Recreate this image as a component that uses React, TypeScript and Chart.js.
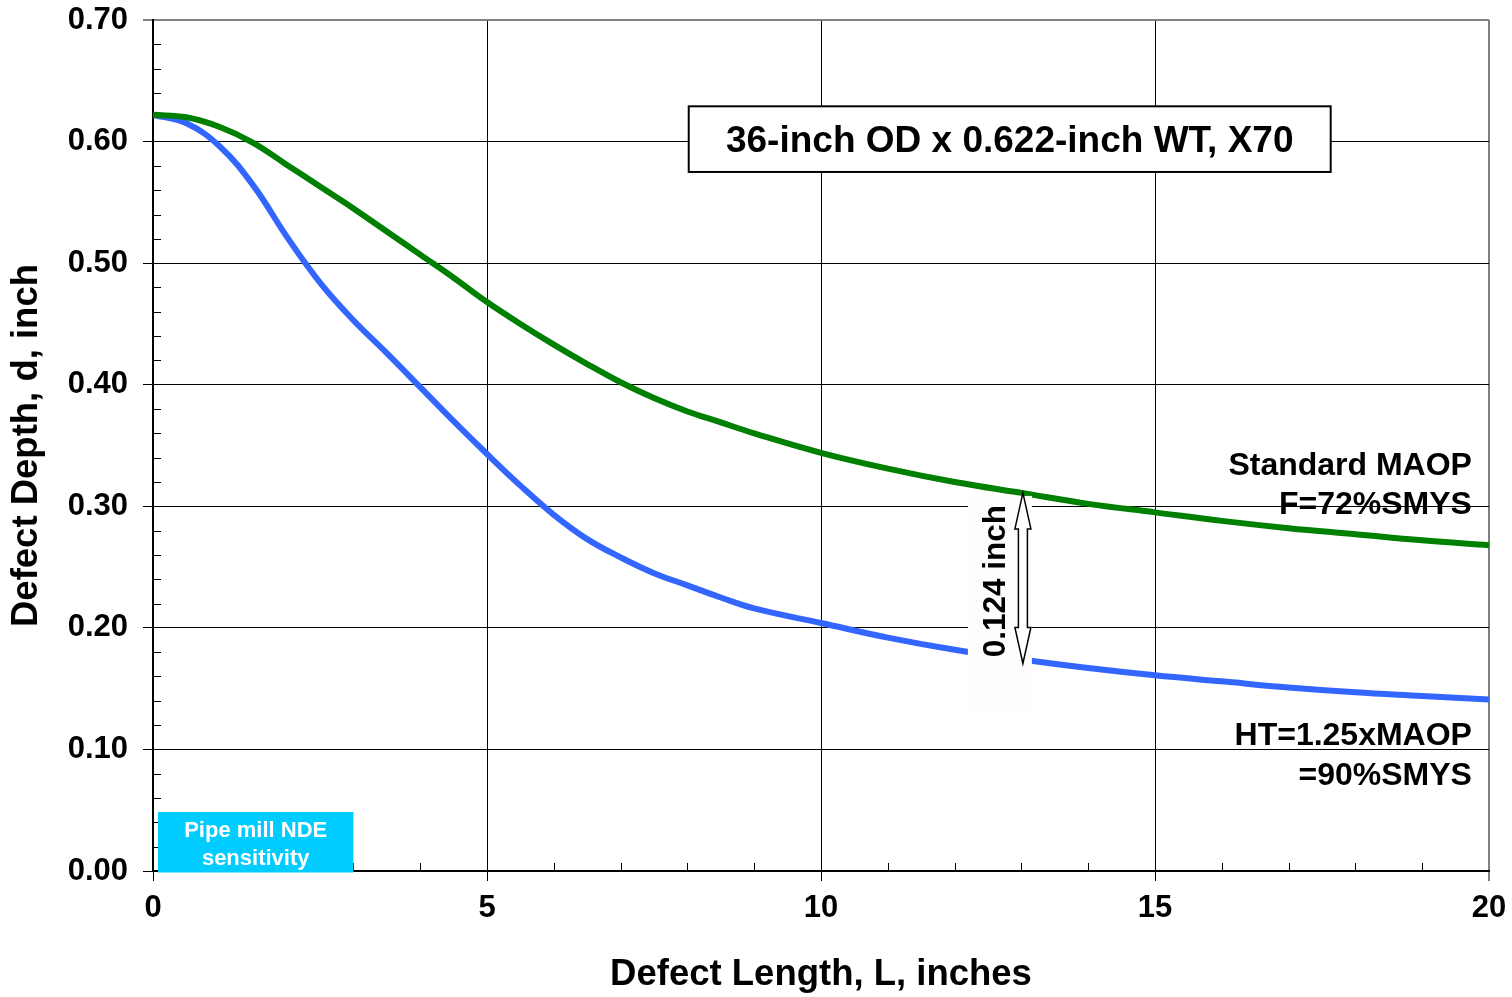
import React, { useEffect, useRef } from "react";
import { Chart, registerables } from "chart.js";

Chart.register(...registerables);

const FONT = "'Liberation Sans', Arial, Helvetica, sans-serif";

// Defect length, inches
const defectLength = [0, 0.5, 1, 1.5, 2, 2.5, 3, 3.5, 4, 4.5, 5, 5.5, 6, 6.5, 7, 7.5, 8, 8.5, 9, 10, 11, 12, 13, 14, 15, 16, 17, 18, 19, 20];

// Critical defect depth at standard MAOP (F = 72% SMYS), inches
const depthStandardMaop = [0.622, 0.62, 0.612, 0.599, 0.581, 0.563, 0.545, 0.526, 0.507, 0.488, 0.468, 0.45, 0.433, 0.417, 0.402, 0.389, 0.378, 0.369, 0.36, 0.344, 0.331, 0.32, 0.311, 0.302, 0.295, 0.288, 0.282, 0.277, 0.272, 0.268];

// Critical defect depth at hydrotest, 1.25 x MAOP (90% SMYS), inches
const depthHydrotest = [0.622, 0.615, 0.596, 0.564, 0.522, 0.484, 0.453, 0.426, 0.398, 0.37, 0.343, 0.317, 0.293, 0.273, 0.258, 0.245, 0.235, 0.225, 0.216, 0.204, 0.192, 0.182, 0.174, 0.167, 0.161, 0.156, 0.151, 0.147, 0.144, 0.141];

// Length at which the depth margin between the two curves is marked
const marginAtLength = 13;
const marginLabel = "0.124 inch";

const pipeLabel = "36-inch OD x 0.622-inch WT, X70";
const standardLabel = ["Standard MAOP", "F=72%SMYS"];
const hydroLabel = ["HT=1.25xMAOP", "=90%SMYS"];
const ndeLabel = ["Pipe mill NDE", "sensitivity"];

const toPoints = (ys: number[]) => defectLength.map((x, i) => ({ x, y: ys[i] }));

const minorTicks = {
  id: "minorTicks",
  beforeDatasetsDraw(chart: any) {
    const { ctx, chartArea: area, scales } = chart;
    ctx.save();
    ctx.strokeStyle = "#000";
    ctx.lineWidth = 1;
    ctx.beginPath();
    for (let v = 1; v < 20; v++) {
      if (v % 5 === 0) continue;
      const x = Math.round(scales.x.getPixelForValue(v)) + 0.5;
      ctx.moveTo(x, area.bottom);
      ctx.lineTo(x, area.bottom - 8);
    }
    for (let i = 1; i < 35; i++) {
      if (i % 5 === 0) continue;
      const y = Math.round(scales.y.getPixelForValue(i * 0.02)) + 0.5;
      ctx.moveTo(area.left, y);
      ctx.lineTo(area.left + 8, y);
    }
    ctx.stroke();
    ctx.restore();
  },
};

const overlay = {
  id: "overlay",
  afterDatasetsDraw(chart: any) {
    const { ctx, scales } = chart;
    const px = (v: number) => scales.x.getPixelForValue(v);
    const py = (v: number) => scales.y.getPixelForValue(v);
    ctx.save();

    // pipe description box
    const bx0 = px(8.02), bx1 = px(17.63), by0 = py(0.629), by1 = py(0.575);
    ctx.fillStyle = "#fff";
    ctx.fillRect(bx0, by0, bx1 - bx0, by1 - by0);
    ctx.strokeStyle = "#000";
    ctx.lineWidth = 2;
    ctx.strokeRect(bx0, by0, bx1 - bx0, by1 - by0);
    ctx.fillStyle = "#000";
    ctx.font = `bold 37px ${FONT}`;
    ctx.textAlign = "center";
    ctx.textBaseline = "alphabetic";
    ctx.fillText(pipeLabel, (bx0 + bx1) / 2, by0 + 46);

    // curve labels
    ctx.font = `bold 32px ${FONT}`;
    ctx.textAlign = "right";
    const rx = px(19.745);
    ctx.fillText(standardLabel[0], rx, py(0.3257));
    ctx.fillText(standardLabel[1], rx, py(0.2937));
    ctx.fillText(hydroLabel[0], rx, py(0.1036));
    ctx.fillText(hydroLabel[1], rx, py(0.0707));

    // depth margin marker between the curves
    const idx = defectLength.indexOf(marginAtLength);
    const ax = px(marginAtLength) + 1.5;
    const top = py(depthStandardMaop[idx]);
    const bot = py(depthHydrotest[idx]) + 4;
    ctx.fillStyle = "#fdfdfd";
    ctx.fillRect(ax - 55, top + 3, 64, bot + 43 - (top + 3));

    ctx.save();
    ctx.translate(ax - 18, (top + bot) / 2 + 3);
    ctx.rotate(-Math.PI / 2);
    ctx.fillStyle = "#000";
    ctx.font = `bold 31.5px ${FONT}`;
    ctx.textAlign = "center";
    ctx.textBaseline = "alphabetic";
    ctx.fillText(marginLabel, 0, 0);
    ctx.restore();

    const hw = 8, sw = 4.5, hl = 36;
    ctx.beginPath();
    ctx.moveTo(ax, top);
    ctx.lineTo(ax + hw, top + hl);
    ctx.lineTo(ax + sw, top + hl);
    ctx.lineTo(ax + sw, bot - hl);
    ctx.lineTo(ax + hw, bot - hl);
    ctx.lineTo(ax, bot);
    ctx.lineTo(ax - hw, bot - hl);
    ctx.lineTo(ax - sw, bot - hl);
    ctx.lineTo(ax - sw, top + hl);
    ctx.lineTo(ax - hw, top + hl);
    ctx.closePath();
    ctx.fillStyle = "#fff";
    ctx.fill();
    ctx.strokeStyle = "#000";
    ctx.lineWidth = 1.5;
    ctx.stroke();

    // NDE sensitivity band
    const nx0 = px(0.075), nx1 = px(3.0), ny0 = py(0.0485), ny1 = py(0) + 1.5;
    ctx.fillStyle = "#00CCFF";
    ctx.fillRect(nx0, ny0, nx1 - nx0, ny1 - ny0);
    ctx.fillStyle = "#fff";
    ctx.font = `bold 22px ${FONT}`;
    ctx.textAlign = "center";
    const ncx = (nx0 + nx1) / 2;
    ctx.fillText(ndeLabel[0], ncx, ny0 + 24.5);
    ctx.fillText(ndeLabel[1], ncx, ny0 + 52.5);

    ctx.restore();
  },
};

export default function App() {
  const canvasRef = useRef<HTMLCanvasElement | null>(null);

  useEffect(() => {
    if (!canvasRef.current) return;
    const edgeColor = (v: number, edge: number) => (Math.abs(v - edge) < 1e-6 ? "#808080" : "#000");
    const edgeWidth = (v: number, edge: number) => (Math.abs(v - edge) < 1e-6 ? 2 : 1);

    const chart = new Chart(canvasRef.current, {
      type: "line",
      data: {
        datasets: [
          {
            label: "Standard MAOP, F=72%SMYS",
            data: toPoints(depthStandardMaop),
            borderColor: "#008000",
            borderWidth: 6,
            pointRadius: 0,
            tension: 0.4,
            fill: false,
          },
          {
            label: "HT=1.25xMAOP =90%SMYS",
            data: toPoints(depthHydrotest),
            borderColor: "#3366FF",
            borderWidth: 6,
            pointRadius: 0,
            tension: 0.4,
            fill: false,
          },
        ],
      },
      options: {
        animation: false,
        responsive: true,
        maintainAspectRatio: false,
        devicePixelRatio: 1,
        layout: { padding: { left: 0, top: 20, right: 23, bottom: 0 } },
        plugins: {
          legend: { display: false },
          tooltip: { enabled: false },
        },
        scales: {
          x: {
            type: "linear",
            min: 0,
            max: 20,
            afterFit: (s: any) => {
              s.height = 126;
              s.paddingLeft = 0;
              s.paddingRight = 0;
            },
            ticks: {
              stepSize: 5,
              color: "#000",
              padding: 9,
              maxRotation: 0,
              font: { family: FONT, size: 31, weight: "bold" },
            },
            grid: {
              color: (c: any) => edgeColor(c.tick?.value ?? 0, 20),
              lineWidth: (c: any) => edgeWidth(c.tick?.value ?? 0, 20),
              tickLength: 10,
            },
            border: { display: true, color: "#000", width: 2 },
            title: {
              display: true,
              text: "Defect Length, L, inches",
              color: "#000",
              font: { family: FONT, size: 36.5, weight: "bold" },
              padding: { top: 0, bottom: 0 },
            },
          },
          y: {
            type: "linear",
            min: 0,
            max: 0.7,
            afterFit: (s: any) => {
              s.width = 153;
              s.paddingTop = 0;
              s.paddingBottom = 0;
            },
            ticks: {
              stepSize: 0.1,
              color: "#000",
              padding: 15,
              font: { family: FONT, size: 31, weight: "bold" },
              callback: (v: any) => Number(v).toFixed(2),
            },
            grid: {
              color: (c: any) => edgeColor(c.tick?.value ?? 0, 0.7),
              lineWidth: (c: any) => edgeWidth(c.tick?.value ?? 0, 0.7),
              tickLength: 10,
            },
            border: { display: true, color: "#000", width: 2 },
            title: {
              display: true,
              text: "Defect Depth, d, inch",
              color: "#000",
              font: { family: FONT, size: 36.5, weight: "bold" },
              padding: { top: 5, bottom: 0 },
            },
          },
        },
      },
      plugins: [minorTicks, overlay],
    } as any);

    return () => chart.destroy();
  }, []);

  return (
    <div style={{ position: "absolute", left: 0, top: 0, width: 1512, height: 997, background: "#fff" }}>
      <canvas ref={canvasRef} />
    </div>
  );
}
